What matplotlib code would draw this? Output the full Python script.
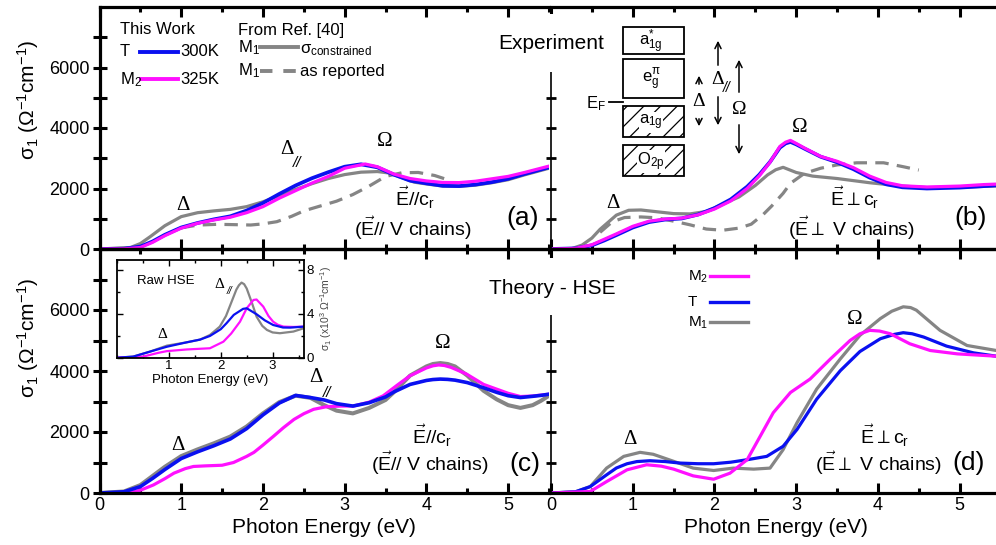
import matplotlib
matplotlib.use("Agg")
import matplotlib.pyplot as plt
from matplotlib.lines import Line2D
from matplotlib.patches import Rectangle, FancyArrowPatch
from matplotlib.ticker import MultipleLocator, FixedLocator

plt.rcParams["font.family"] = ["Liberation Sans", "DejaVu Sans"]
plt.rcParams["mathtext.fontset"] = "custom"
plt.rcParams["mathtext.rm"] = "Liberation Sans"
plt.rcParams["mathtext.it"] = "Liberation Sans:italic"
plt.rcParams["mathtext.bf"] = "Liberation Sans:bold"
plt.rcParams["hatch.linewidth"] = 0.9

# ---------------- data ----------------
# (a) experiment, E // c_r
exp_par_T_E = [0, 0.3, 0.5, 0.65, 0.8, 1.0, 1.2, 1.4, 1.6, 1.8, 2.0, 2.2, 2.4, 2.6,
               2.8, 3.0, 3.2, 3.4, 3.6, 3.8, 4.0, 4.2, 4.4, 4.6, 4.8, 5.0, 5.2, 5.5]
exp_par_T = [0, 10, 80, 250, 470, 710, 860, 980, 1080, 1270, 1520, 1820, 2100, 2340,
             2540, 2720, 2800, 2700, 2460, 2260, 2170, 2090, 2080, 2130, 2210, 2320, 2480, 2700]
exp_par_M2_E = [0, 0.3, 0.5, 0.65, 0.8, 1.0, 1.2, 1.4, 1.6, 1.8, 2.0, 2.2, 2.4, 2.6,
                2.8, 3.0, 3.25, 3.4, 3.6, 3.8, 4.0, 4.2, 4.4, 4.6, 4.8, 5.0, 5.2, 5.5]
exp_par_M2 = [0, 5, 50, 220, 440, 690, 850, 960, 1050, 1200, 1400, 1680, 1930, 2180,
              2400, 2670, 2810, 2720, 2480, 2330, 2250, 2200, 2195, 2240, 2320, 2400, 2530, 2740]
exp_par_M1c_E = [0, 0.38, 0.5, 0.62, 0.8, 1.0, 1.2, 1.4, 1.6, 1.8, 2.0, 2.2, 2.4, 2.6, 2.8,
                 3.0, 3.2, 3.4, 3.55, 3.7, 3.85, 4.0, 4.2, 4.4, 4.6, 4.8, 5.0, 5.2, 5.5]
exp_par_M1c = [0, 50, 180, 407, 770, 1070, 1200, 1260, 1310, 1400, 1560, 1760, 1970, 2160, 2330,
               2460, 2540, 2560, 2510, 2360, 2210, 2150, 2080, 2070, 2110, 2190, 2290, 2450, 2670]
exp_par_M1r_E = [1.0, 1.2, 1.44, 1.65, 1.85, 2.0, 2.17, 2.35, 2.5, 2.7, 2.9, 3.1, 3.3, 3.5,
                 3.7, 3.9, 4.1, 4.27]
exp_par_M1r = [700, 790, 816, 805, 793, 830, 903, 1080, 1260, 1420, 1580, 1800, 2080, 2400,
               2520, 2530, 2430, 2280]

# (b) experiment, E perp c_r
exp_per_T_E = [0, 0.3, 0.5, 0.65, 0.8, 1.0, 1.2, 1.4, 1.6, 1.8, 2.0, 2.2, 2.4, 2.55, 2.68,
               2.8, 2.87, 2.93, 3.0, 3.1, 3.3, 3.5, 3.7, 3.9, 4.1, 4.3, 4.6, 5.0, 5.3, 5.5]
exp_per_T = [0, 20, 120, 280, 460, 710, 890, 975, 1010, 1140, 1350, 1640, 2060, 2460, 2880,
             3350, 3490, 3540, 3460, 3320, 3050, 2870, 2640, 2360, 2140, 2040, 2000, 2030,
             2080, 2110]
exp_per_M2 = [0, 20, 140, 320, 500, 750, 920, 990, 1020, 1130, 1320, 1590, 2000, 2420, 2870,
              3390, 3530, 3590, 3490, 3340, 3060, 2900, 2690, 2410, 2200, 2090, 2050, 2080,
              2130, 2150]
exp_per_M1c_E = [0, 0.25, 0.38, 0.5, 0.6, 0.8, 0.95, 1.1, 1.3, 1.5, 1.7, 1.9, 2.1, 2.3, 2.5,
                 2.65, 2.75, 2.84, 3.0, 3.2, 3.5, 3.9, 4.3, 4.6, 5.0, 5.5]
exp_per_M1c = [0, 10, 130, 360, 650, 1120, 1280, 1290, 1230, 1170, 1160, 1240, 1480, 1720, 2100,
               2450, 2620, 2700, 2530, 2410, 2330, 2190, 2080, 2030, 2040, 2090]
exp_per_M1r_E = [0.6, 0.75, 0.9, 1.1, 1.3, 1.5, 1.7, 1.9, 2.1, 2.3, 2.45, 2.6, 2.7, 2.84,
                 2.93, 3.1, 3.3, 3.5, 3.74, 4.07, 4.31, 4.5]
exp_per_M1r = [550, 900, 1040, 1060, 1030, 920, 800, 660, 620, 690, 820, 1150, 1420, 1840,
               2170, 2500, 2670, 2780, 2850, 2850, 2720, 2610]

# (c) theory HSE, E // c_r
hse_par_E = [0, 0.3, 0.5, 0.65, 0.8, 1.0, 1.2, 1.4, 1.6, 1.8, 2.0, 2.2, 2.4, 2.58, 2.75, 2.9,
             3.1, 3.3, 3.5, 3.6, 3.8, 4.0, 4.08, 4.17, 4.26, 4.35, 4.5, 4.7, 4.86, 5.0, 5.15,
             5.3, 5.4, 5.5]
hse_par_T = [0, 40, 210, 480, 770, 1130, 1350, 1550, 1770, 2110, 2560, 2950, 3200, 3130, 3050,
             2930, 2850, 2960, 3150, 3310, 3560, 3690, 3720, 3735, 3725, 3700, 3620, 3450,
             3300, 3190, 3130, 3170, 3200, 3240]
hse_par_M1 = [0, 50, 260, 560, 860, 1210, 1430, 1630, 1850, 2180, 2610, 2980, 3190, 3120, 2880,
              2700, 2610, 2790, 3050, 3300, 3850, 4150, 4230, 4260, 4230, 4150, 3850, 3350,
              3070, 2880, 2790, 2880, 3020, 3190]
hse_par_M2_E = [0, 0.38, 0.5, 0.66, 0.8, 0.91, 1.05, 1.15, 1.3, 1.5, 1.64, 1.8, 1.89, 2.0, 2.13,
                2.25, 2.38, 2.5, 2.62, 2.78, 2.95, 3.11, 3.3, 3.47, 3.65, 3.8, 4.0, 4.08, 4.15,
                4.22, 4.3, 4.49, 4.7, 4.86, 5.0, 5.15, 5.3, 5.5]
hse_par_M2 = [0, 20, 90, 264, 470, 650, 800, 870, 890, 910, 1000, 1200, 1333, 1570, 1862,
              2140, 2413, 2600, 2744, 2830, 2850, 2853, 2980, 3185, 3550, 3846, 4100, 4170,
              4198, 4180, 4120, 3901, 3560, 3405, 3270, 3163, 3180, 3240]

# (d) theory HSE, E perp c_r
hse_per_T_E = [0, 0.3, 0.48, 0.68, 0.8, 0.93, 1.05, 1.21, 1.4, 1.58, 1.8, 1.99, 2.2, 2.4, 2.64,
               2.84, 3.01, 3.25, 3.54, 3.78, 4.03, 4.2, 4.31, 4.42, 4.56, 4.84, 5.17, 5.45]
hse_per_T = [0, 40, 210, 595, 820, 959, 1030, 1058, 1030, 981, 960, 959, 1010, 1091, 1201,
             1531, 2083, 3074, 4011, 4639, 5058, 5200, 5256, 5220, 5113, 4816, 4595, 4485]
hse_per_M2_E = [0, 0.48, 0.68, 0.93, 1.17, 1.35, 1.5, 1.74, 1.99, 2.19, 2.4, 2.56, 2.72, 2.93,
                3.17, 3.42, 3.66, 3.78, 3.9, 4.02, 4.15, 4.39, 4.64, 4.97, 5.45]
hse_per_M2 = [0, 50, 374, 760, 926, 880, 783, 562, 452, 650, 1091, 1862, 2634, 3295,
              3736, 4397, 5002, 5220, 5333, 5310, 5223, 4893, 4672, 4562, 4485]
hse_per_M1_E = [0, 0.3, 0.48, 0.68, 0.89, 1.09, 1.25, 1.42, 1.74, 1.99, 2.23, 2.48, 2.68, 2.84,
                3.01, 3.25, 3.54, 3.78, 4.03, 4.17, 4.31, 4.4, 4.47, 4.76, 5.09, 5.45]
hse_per_M1 = [0, 40, 210, 816, 1201, 1333, 1270, 1113, 816, 738, 816, 783, 816, 1421,
              2304, 3405, 4397, 5168, 5719, 5960, 6105, 6080, 5995, 5333, 4837, 4672]

# inset: raw HSE, E // c_r (units of 10^3)
raw_M1_E = [0, 0.31, 0.63, 0.96, 1.34, 1.6, 1.79, 1.98, 2.1, 2.2, 2.3, 2.35, 2.4, 2.45, 2.5,
            2.6, 2.69, 2.8, 2.89, 3.0, 3.14, 3.4, 3.6]
raw_M1 = [0, 0.1, 0.55, 1.1, 1.4, 1.65, 2.07, 2.83, 3.8, 5.0, 6.2, 6.6, 6.84, 6.7, 6.3,
          5.0, 3.74, 2.9, 2.53, 2.3, 2.23, 2.38, 2.68]
raw_T_E = [0, 0.31, 0.63, 0.96, 1.34, 1.6, 1.79, 2.0, 2.11, 2.25, 2.43, 2.5, 2.69, 2.85, 3.01,
           3.2, 3.34, 3.6]
raw_T = [0, 0.1, 0.55, 1.0, 1.4, 1.65, 1.98, 2.6, 3.14, 3.9, 4.45, 4.5, 3.96, 3.4, 2.98,
         2.75, 2.74, 2.83]
raw_M2_E = [0, 0.5, 0.8, 0.96, 1.34, 1.79, 2.05, 2.2, 2.37, 2.5, 2.63, 2.69, 2.82, 2.92, 3.01,
            3.1, 3.21, 3.4, 3.6]
raw_M2 = [0, 0.1, 0.45, 0.6, 0.75, 0.86, 1.46, 2.2, 3.28, 4.5, 5.26, 5.3, 4.65, 3.8, 3.28,
          3.0, 2.83, 2.8, 2.83]

x_ticks = [0, 1, 2, 3, 4, 5]
y_ticks = [0, 2000, 4000, 6000]

# ---------------- figure ----------------
W, H = 996, 545
BLUE = "#0a10f0"
PINK = "#ff10ff"
GRAY = "#858585"
LW = 2.3

fig = plt.figure(figsize=(W / 100, H / 100), dpi=100)


def P(px, py):
    return px / W, 1 - py / H


def ftext(px, py, s, **kw):
    kw.setdefault("ha", "left")
    kw.setdefault("va", "center")
    kw.setdefault("zorder", 6)
    fig.text(px / W, 1 - py / H, s, **kw)


def fline(x0, x1, y, **kw):
    fig.add_artist(Line2D([x0 / W, x1 / W], [1 - y / H, 1 - y / H],
                          transform=fig.transFigure, zorder=6, **kw))


def farrow(x, y0, y1):
    fig.add_artist(FancyArrowPatch(P(x, y0), P(x, y1), transform=fig.transFigure,
                                   arrowstyle="->", mutation_scale=11, lw=1.1,
                                   color="black", zorder=6))


def delta_par(px, py, size, sx, sy, ssize):
    ftext(px, py, "\u0394", fontsize=size, family="Liberation Serif", ha="center")
    ftext(sx, sy, "//", fontsize=ssize, style="italic", ha="center")


def style_axes(ax, left_side, bottom_labels):
    ax.set_xlim(0, 5.5)
    ax.set_ylim(0, 8000)
    ax.xaxis.set_major_locator(FixedLocator(x_ticks))
    ax.xaxis.set_minor_locator(MultipleLocator(0.5))
    ax.yaxis.set_major_locator(FixedLocator(y_ticks))
    ax.yaxis.set_minor_locator(FixedLocator([1000, 3000, 5000, 7000]))
    ax.tick_params(axis="x", which="both", direction="in", top=True, bottom=True,
                   width=2.2, labelsize=13, pad=3, labelbottom=bottom_labels)
    ax.tick_params(axis="x", which="major", length=7)
    ax.tick_params(axis="x", which="minor", length=3.5)
    for s in ax.spines.values():
        s.set_linewidth(2.3)
    if left_side:
        ax.spines["right"].set_visible(False)
        ax.tick_params(axis="y", which="both", direction="inout", left=True, right=False,
                       length=10, width=2.2, labelsize=13, pad=2)
    else:
        ax.spines["left"].set_linewidth(1.2)
        ax.spines["left"].set_bounds(0, 5850)
        ax.tick_params(axis="y", which="both", direction="inout", left=True, right=True,
                       length=7, width=2.0, labelleft=False)
    ax.set_facecolor("none")


ax_a = fig.add_axes([99.5 / W, 1 - 249 / H, 449.5 / W, 242 / H])
ax_b = fig.add_axes([551 / W, 1 - 249 / H, 449.5 / W, 242 / H])
ax_c = fig.add_axes([99.5 / W, 1 - 493 / H, 449.5 / W, 244 / H])
ax_d = fig.add_axes([551 / W, 1 - 493 / H, 449.5 / W, 244 / H])
style_axes(ax_a, True, False)
style_axes(ax_b, False, False)
style_axes(ax_c, True, True)
style_axes(ax_d, False, True)

dash = (4.2, 2.6)
# (a)
ax_a.plot(exp_par_M1c_E, exp_par_M1c, color=GRAY, lw=LW)
ax_a.plot(exp_par_M1r_E, exp_par_M1r, color=GRAY, lw=LW, dashes=dash)
ax_a.plot(exp_par_T_E, exp_par_T, color=BLUE, lw=LW + 0.4)
ax_a.plot(exp_par_M2_E, exp_par_M2, color=PINK, lw=LW)
# (b)
ax_b.plot(exp_per_M1c_E, exp_per_M1c, color=GRAY, lw=LW)
ax_b.plot(exp_per_M1r_E, exp_per_M1r, color=GRAY, lw=LW, dashes=dash)
ax_b.plot(exp_per_T_E, exp_per_T, color=BLUE, lw=LW + 0.4)
ax_b.plot(exp_per_T_E, exp_per_M2, color=PINK, lw=LW)
# (c)
ax_c.plot(hse_par_E, hse_par_M1, color=GRAY, lw=LW + 0.6)
ax_c.plot(hse_par_M2_E, hse_par_M2, color=PINK, lw=LW)
ax_c.plot(hse_par_E, hse_par_T, color=BLUE, lw=LW + 0.3)
# (d)
ax_d.plot(hse_per_M1_E, hse_per_M1, color=GRAY, lw=LW)
ax_d.plot(hse_per_T_E, hse_per_T, color=BLUE, lw=LW)
ax_d.plot(hse_per_M2_E, hse_per_M2, color=PINK, lw=LW)

for ax in (ax_c, ax_d):
    ax.set_xlabel("Photon Energy (eV)", fontsize=15, labelpad=3)

# hide the middle divider where the headings sit
for y0, y1 in ((14, 72), (258, 315)):
    fig.add_artist(Rectangle(P(543, y1), 16 / W, (y1 - y0) / H, transform=fig.transFigure,
                             facecolor="white", edgecolor="none", zorder=5))

# y labels
ylab = r"σ$_\mathrm{1}$ (Ω$^\mathrm{-1}$cm$^\mathrm{-1}$)"
ftext(28, 100, ylab, fontsize=15, rotation=90, ha="center")
ftext(28, 338, ylab, fontsize=15, rotation=90, ha="center")

# ---------------- inset (raw HSE) ----------------
ax_in = fig.add_axes([117.2 / W, 1 - 357.7 / H, 186.5 / W, 97.7 / H])
ax_in.plot(raw_M1_E, raw_M1, color=GRAY, lw=1.6)
ax_in.plot(raw_M2_E, raw_M2, color=PINK, lw=1.6)
ax_in.plot(raw_T_E, raw_T, color=BLUE, lw=1.6)
ax_in.set_xlim(0, 3.6)
ax_in.set_ylim(0, 8.9)
ax_in.xaxis.set_major_locator(FixedLocator([1, 2, 3]))
ax_in.xaxis.set_minor_locator(MultipleLocator(0.5))
ax_in.yaxis.set_major_locator(FixedLocator([0, 4, 8]))
ax_in.yaxis.set_minor_locator(FixedLocator([2, 6]))
ax_in.tick_params(which="both", direction="in", top=True, right=True, left=True,
                  labelleft=False, labelright=True, labelsize=9.5, width=1, pad=2)
ax_in.tick_params(which="major", length=4)
ax_in.tick_params(which="minor", length=2.5)
for s in ax_in.spines.values():
    s.set_linewidth(1.3)
ax_in.set_xlabel("Photon Energy (eV)", fontsize=9.5, labelpad=1)
ax_in.yaxis.set_label_position("right")
ax_in.set_ylabel(r"σ$_\mathrm{1}$ (x10$^\mathrm{3}$ Ω$^\mathrm{-1}$cm$^\mathrm{-1}$)",
                 fontsize=7.5, labelpad=3, color="#444444")
ftext(137, 281, "Raw HSE", fontsize=9.5)
ftext(162, 334, "\u0394", fontsize=11, family="Liberation Serif", ha="center")
delta_par(219, 285, 11, 229, 291, 7.5)

# ---------------- legends ----------------
ftext(120, 30, "This Work", fontsize=12)
ftext(120, 52, "T", fontsize=12)
fline(140, 178, 52, color=BLUE, lw=2.8)
ftext(180, 52, "300K", fontsize=12)
ftext(120, 80, r"M$_\mathrm{2}$", fontsize=12)
fline(141, 178, 79, color=PINK, lw=2.8)
ftext(180, 80, "325K", fontsize=12)
ftext(238, 30, "From Ref. [40]", fontsize=12)
ftext(238, 48, r"M$_\mathrm{1}$", fontsize=12)
fline(260, 298, 47, color=GRAY, lw=2.8)
ftext(300, 50, r"σ$_\mathrm{constrained}$", fontsize=12)
ftext(238, 71, r"M$_\mathrm{1}$", fontsize=12)
fline(260, 298, 71, color=GRAY, lw=2.8, dashes=(3.2, 2.8))
ftext(300, 71, "as reported", fontsize=12)

ftext(688, 277, r"M$_\mathrm{2}$", fontsize=11)
fline(710, 748, 276, color=PINK, lw=2.4)
ftext(688, 302, "T", fontsize=11)
fline(710, 748, 302, color=BLUE, lw=2.4)
ftext(688, 323, r"M$_\mathrm{1}$", fontsize=11)
fline(710, 748, 322, color=GRAY, lw=2.4)

# ---------------- headings / annotations ----------------
ftext(604, 43, "Experiment", fontsize=15, ha="right")
ftext(552, 288, "Theory - HSE", fontsize=15, ha="center")

serif = dict(family="Liberation Serif", ha="center", fontsize=15)
epar = r"$\vec{\mathrm{E}}\mathit{//}\mathrm{c}_\mathrm{r}$"
eper = r"$\vec{\mathrm{E}}{\perp}\mathrm{c}_\mathrm{r}$"
cpar = r"($\vec{\mathrm{E}}\mathit{//}$ V chains)"
cper = r"($\vec{\mathrm{E}}{\perp}$ V chains)"
# (a)
ftext(183, 206, "\u0394", **serif)
delta_par(287, 150, 15, 297, 163, 11)
ftext(385, 142, "\u03a9", **serif)
ftext(395, 198, epar, fontsize=14)
ftext(413, 228, cpar, fontsize=14, ha="center")
ftext(523, 218, "(a)", fontsize=19, ha="center")
# (b)
ftext(613, 204, "\u0394", **serif)
ftext(800, 128, "\u03a9", **serif)
ftext(830, 198, eper, fontsize=14)
ftext(852, 228, cper, fontsize=14, ha="center")
ftext(971, 218, "(b)", fontsize=19, ha="center")
# (c)
ftext(178, 446, "\u0394", **serif)
delta_par(316, 377, 15, 327, 393, 11)
ftext(443, 343, "\u03a9", **serif)
ftext(412, 436, epar, fontsize=14)
ftext(430, 463, cpar, fontsize=14, ha="center")
ftext(525, 464, "(c)", fontsize=19, ha="center")
# (d)
ftext(630, 439, "\u0394", **serif)
ftext(855, 320, "\u03a9", **serif)
ftext(860, 436, eper, fontsize=14)
ftext(879, 463, cper, fontsize=14, ha="center")
ftext(969, 463, "(d)", fontsize=19, ha="center")

# ---------------- energy level sketch in (b) ----------------
boxes = [(27, 54, False, r"a$^\mathrm{*}_\mathrm{1g}$"),
         (59, 98, False, r"e$^\mathrm{π}_\mathrm{g}$"),
         (106, 137, True, r"a$_\mathrm{1g}$"),
         (145, 176, True, r"O$_\mathrm{2p}$")]
for top, bot, hatched, lab in boxes:
    fig.add_artist(Rectangle(P(623, bot), 61 / W, (bot - top) / H, transform=fig.transFigure,
                             facecolor="white", edgecolor="black", lw=1.3,
                             hatch="//" if hatched else None, zorder=6))
    ftext(651, (top + bot) / 2 + 1, lab, fontsize=12, ha="center",
          bbox=dict(facecolor="white", edgecolor="none", pad=0.5) if hatched else None,
          zorder=7)
ftext(596, 104, r"E$_\mathrm{F}$", fontsize=12, ha="center")
fline(609, 623, 102, color="black", lw=1.3)
farrow(699, 87, 73)
farrow(699, 116, 129)
ftext(699, 102, "\u0394", fontsize=14, family="Liberation Serif", ha="center")
farrow(718, 68, 38)
farrow(718, 94, 128)
delta_par(718, 80, 14, 727, 88, 10)
farrow(739, 95, 57)
farrow(739, 122, 157)
ftext(739, 109, "\u03a9", fontsize=14, family="Liberation Serif", ha="center")

fig.savefig("out.png", dpi=100, facecolor="white")
